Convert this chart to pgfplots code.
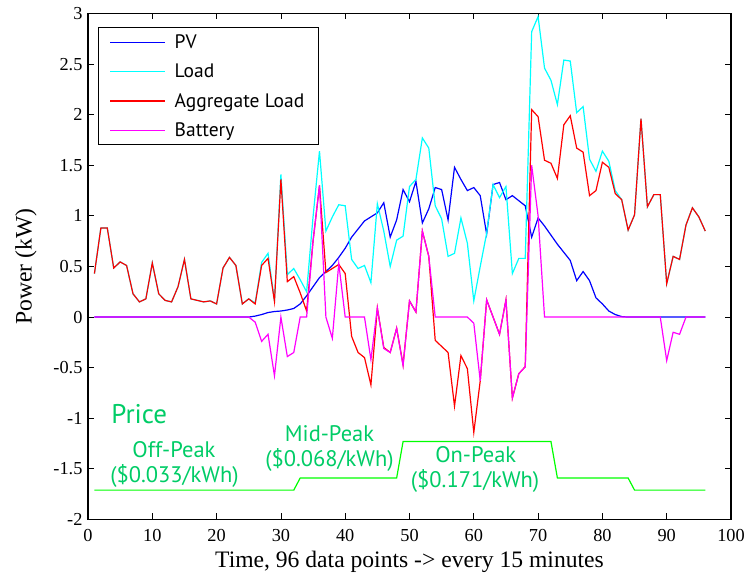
\documentclass[border=0pt]{standalone}
\usepackage{fontspec}
\setmainfont{Liberation Serif}
\newfontfamily\sansf{PT Sans}
\usepackage{pgfplots}
\usepackage{pgfplotstable}
\pgfplotsset{compat=1.18}
\definecolor{pvblue}{RGB}{0,0,255}
\definecolor{loadcyan}{RGB}{0,255,255}
\definecolor{aggred}{RGB}{255,0,0}
\definecolor{batmag}{RGB}{255,0,255}
\definecolor{priceline}{RGB}{0,255,0}
\definecolor{pricetext}{RGB}{0,204,102}

\pgfplotstableread{
t pv load agg bat
1 0 0.43 0.43 0
2 0 0.88 0.88 0
3 0 0.88 0.88 0
4 0 0.485 0.485 0
5 0 0.545 0.545 0
6 0 0.51 0.51 0
7 0 0.23 0.23 0
8 0 0.15 0.15 0
9 0 0.18 0.18 0
10 0 0.535 0.535 0
11 0 0.23 0.23 0
12 0 0.165 0.165 0
13 0 0.15 0.15 0
14 0 0.30 0.30 0
15 0 0.57 0.57 0
16 0 0.18 0.18 0
17 0 0.165 0.165 0
18 0 0.15 0.15 0
19 0 0.16 0.16 0
20 0 0.13 0.13 0
21 0 0.485 0.485 0
22 0 0.59 0.59 0
23 0 0.51 0.51 0
24 0 0.13 0.13 0
25 0 0.18 0.18 0
26 0.01 0.14 0.13 -0.05
27 0.025 0.54 0.51 -0.24
28 0.045 0.63 0.58 -0.17
29 0.055 0.16 0.155 -0.58
30 0.06 1.41 1.36 0
31 0.07 0.42 0.35 -0.39
32 0.085 0.48 0.40 -0.35
33 0.13 0.37 0.24 0
34 0.21 0.25 0.06 0
35 0.30 0.99 0.75 0.75
36 0.39 1.64 1.30 1.30
37 0.45 0.85 0.44 0
38 0.51 0.99 0.48 -0.21
39 0.59 1.11 0.52 0.53
40 0.68 1.10 0.43 0
41 0.79 0.57 -0.19 0
42 0.87 0.48 -0.35 0
43 0.95 0.51 -0.40 0
44 0.99 0.34 -0.67 -0.42
45 1.03 1.12 0.09 0.09
46 1.13 0.85 -0.30 -0.31
47 0.79 0.50 -0.35 -0.35
48 0.96 0.76 -0.11 -0.11
49 1.26 0.80 -0.47 -0.48
50 1.14 1.29 0.16 0.16
51 1.34 1.36 0.05 0.05
52 0.93 1.77 0.85 0.85
53 1.07 1.67 0.60 0.60
54 1.28 1.10 -0.23 0
55 1.26 0.97 -0.29 0
56 0.96 0.60 -0.35 0
57 1.48 0.63 -0.88 0
58 1.36 0.98 -0.38 0
59 1.25 0.73 -0.51 0
60 1.28 0.16 -1.14 -0.06
61 1.20 0.50 -0.63 -0.63
62 0.82 0.83 0.17 0.17
63 1.31 1.31 0.00 0.00
64 1.33 1.18 -0.17 -0.17
65 1.16 1.29 0.17 0.17
66 1.20 0.43 -0.80 -0.80
67 1.15 0.58 -0.56 -0.56
68 1.10 0.58 -0.49 -0.49
69 0.79 2.82 2.05 1.50
70 0.98 2.97 1.98 1.00
71 0.90 2.46 1.55 0
72 0.81 2.34 1.52 0
73 0.72 2.10 1.37 0
74 0.64 2.54 1.90 0
75 0.56 2.53 1.99 0
76 0.36 2.02 1.67 0
77 0.45 2.08 1.63 0
78 0.36 1.56 1.20 0
79 0.19 1.44 1.25 0
80 0.13 1.64 1.53 0
81 0.06 1.54 1.48 0
82 0.025 1.25 1.22 0
83 0.005 1.16 1.16 0
84 0 0.86 0.86 0
85 0 1.01 1.01 0
86 0 1.96 1.96 0
87 0 1.09 1.09 0
88 0 1.21 1.21 0
89 0 1.21 1.21 0
90 0 0.33 0.33 -0.43
91 0 0.60 0.60 -0.15
92 0 0.57 0.57 -0.17
93 0 0.91 0.91 0
94 0 1.08 1.08 0
95 0 0.99 0.99 0
96 0 0.85 0.85 0
}\datatable

\pgfplotstableread{
t price
1 -1.71
32 -1.71
33 -1.59
48 -1.59
49 -1.23
72 -1.23
73 -1.59
84 -1.59
85 -1.71
96 -1.71
}\pricetable

\begin{document}
\begin{tikzpicture}
\begin{axis}[
  width=643pt, height=506pt, scale only axis,
  xmin=0, xmax=100, ymin=-2, ymax=3,
  xtick={0,10,...,100},
  ytick={-2,-1.5,-1,-0.5,0,0.5,1,1.5,2,2.5,3},
  tick align=inside,
  major tick length=6pt,
  every tick/.style={black, line width=0.8pt},
  axis line style={line width=1.2pt},
  /pgf/number format/assume math mode=true,
  ticklabel style={font=\fontsize{18.3}{20}\selectfont},
  xticklabel style={yshift=-6pt},
  yticklabel style={xshift=-2pt},
  label style={font=\fontsize{23.6}{26}\selectfont},
  xlabel={Time, 96 data points -> every 15 minutes},
  ylabel={Power (kW)},
  xlabel style={at={(axis description cs:0.5,-0.084)}, anchor=center},
  ylabel style={at={(axis description cs:-0.0964,0.5)}, anchor=center},
  legend style={at={(0,1)}, anchor=north west, xshift=10pt, yshift=-13.5pt,
    draw=black, line width=1pt, font=\sansf\fontsize{19.5}{22}\selectfont,
    inner xsep=11pt, inner ysep=4pt, row sep=8pt,
    /tikz/column 1/.style={column sep=6pt},
    nodes={inner sep=3pt}},
  legend cell align=left,
  legend image code/.code={\draw[#1, line width=1.2pt] (0pt,0pt) -- (55pt,0pt);},
]
\addplot[pvblue, line width=1.2pt] table[x=t, y=pv] {\datatable};
\addlegendentry{\vphantom{Ag}PV}
\addplot[loadcyan, line width=1.2pt] table[x=t, y=load] {\datatable};
\addlegendentry{\vphantom{Ag}Load}
\addplot[aggred, line width=1.2pt] table[x=t, y=agg] {\datatable};
\addlegendentry{\vphantom{Ag}Aggregate Load}
\addplot[batmag, line width=1.2pt] table[x=t, y=bat] {\datatable};
\addlegendentry{\vphantom{Ag}Battery}
\addplot[priceline, line width=1.2pt, forget plot] table[x=t, y=price] {\pricetable};

\node[anchor=base west, inner sep=0pt, text=pricetext, font=\sansf\fontsize{27}{30}\selectfont] at (axis cs:3.6,-1.053) {Price};
\begin{scope}[every node/.style={anchor=base, inner sep=0pt, text=pricetext, font=\sansf\fontsize{22.5}{25}\selectfont}]
\node at (axis cs:13.37,-1.385) {Off-Peak};
\node at (axis cs:13.45,-1.637) {(\$0.033/kWh)};
\node at (axis cs:37.56,-1.226) {Mid-Peak};
\node at (axis cs:37.56,-1.479) {(\$0.068/kWh)};
\node at (axis cs:60.3,-1.434) {On-Peak};
\node at (axis cs:60.2,-1.686) {(\$0.171/kWh)};
\end{scope}
\end{axis}
\pgfresetboundingbox
\useasboundingbox ([xshift=-88pt,yshift=-56.5pt]current axis.south west) rectangle ([xshift=16pt,yshift=13.5pt]current axis.north east);
\end{tikzpicture}
\end{document}
